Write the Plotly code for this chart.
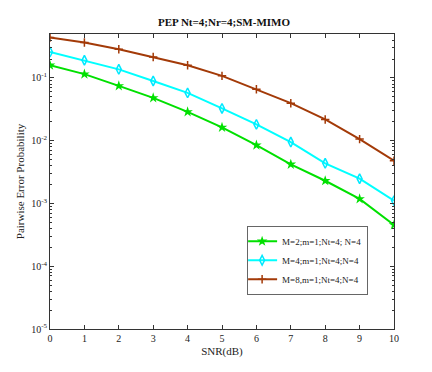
import numpy as np
import plotly.graph_objects as go

snr = [0, 1, 2, 3, 4, 5, 6, 7, 8, 9, 10]

# PEP curves
pep_m2 = [0.159, 0.115, 0.0747, 0.0481, 0.0288, 0.0163, 0.0085, 0.0042, 0.0023, 0.00118, 0.000455]
pep_m4 = [0.259, 0.191, 0.137, 0.0895, 0.0578, 0.0327, 0.0182, 0.0095, 0.00436, 0.00248, 0.00111]
pep_m8 = [0.44, 0.366, 0.286, 0.216, 0.159, 0.108, 0.066, 0.0396, 0.0218, 0.0106, 0.0048]

names = ["M=2;m=1;Nt=4; N=4", "M=4;m=1;Nt=4;N=4", "M=8,m=1;Nt=4;N=4"]
y_tickvals = [1e-5, 1e-4, 1e-3, 1e-2, 1e-1]
y_ticktext = ["10<sup>-5</sup>", "10<sup>-4</sup>", "10<sup>-3</sup>", "10<sup>-2</sup>", "10<sup>-1</sup>"]

# minor ticks 2..9 in each decade
minor_vals = [m * 10.0 ** e for e in range(-5, 0) for m in range(2, 10)]

font = "Liberation Serif"

fig = go.Figure()
fig.add_trace(go.Scatter(
    x=snr, y=pep_m2, name=names[0], mode="lines+markers",
    line=dict(color="#00e000", width=2),
    marker=dict(symbol="star", size=8, color="#00e000"),
))
fig.add_trace(go.Scatter(
    x=snr, y=pep_m4, name=names[1], mode="lines+markers",
    line=dict(color="#00ffff", width=2),
    marker=dict(symbol="diamond-tall-open", size=7, color="#00e8ff", line=dict(width=1.5)),
))
fig.add_trace(go.Scatter(
    x=snr, y=pep_m8, name=names[2], mode="lines+markers",
    line=dict(color="#a33a08", width=2),
    marker=dict(symbol="cross-thin-open", size=6, color="#a33a08", line=dict(width=1.5)),
))

fig.update_layout(
    width=432, height=372,
    margin=dict(l=42, r=46, t=26, b=51, autoexpand=False),
    paper_bgcolor="white", plot_bgcolor="white",
    font=dict(family=font, size=10, color="#222"),
    title=dict(text="<b>PEP Nt=4;Nr=4;SM-MIMO</b>", x=0.5, xanchor="center",
               y=1 - 14 / 372, yanchor="middle", font=dict(size=11, color="#111")),
    legend=dict(x=0.573, y=0.35, xanchor="left", yanchor="top",
                bgcolor="white", bordercolor="#666", borderwidth=1,
                font=dict(size=9), tracegroupgap=0, itemwidth=30,
                indentation=-6),
    showlegend=True,
)
fig.update_xaxes(
    range=[0, 10], tickvals=snr, ticks="inside", ticklen=4, tickcolor="#333",
    showline=True, linecolor="#333", linewidth=1, mirror="ticks",
    showgrid=False, zeroline=False, automargin=False,
    title=dict(text="SNR(dB)", standoff=4, font=dict(size=11)),
)
fig.update_yaxes(
    type="log", range=[-5, -0.3], tickvals=y_tickvals, ticktext=y_ticktext,
    ticks="inside", ticklen=4, tickcolor="#333",
    minor=dict(ticks="inside", ticklen=2, tickcolor="#333", showgrid=False,
               tickmode="array", tickvals=minor_vals),
    showline=True, linecolor="#333", linewidth=1, mirror="ticks",
    showgrid=False, zeroline=False, automargin=False,
    title=dict(text="Pairwise Error Probability", standoff=4, font=dict(size=11)),
)

fig.write_html("out.html")
